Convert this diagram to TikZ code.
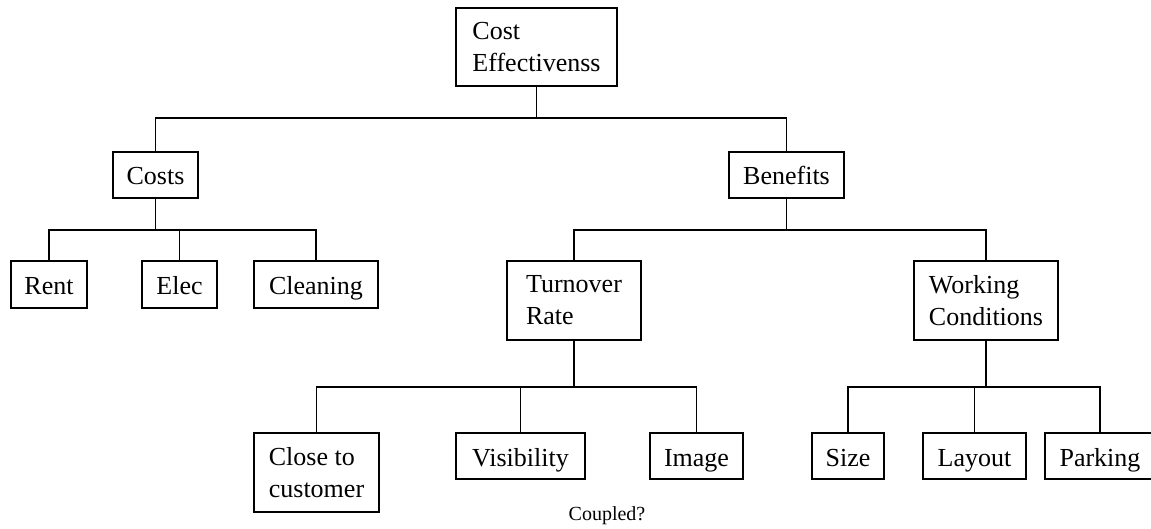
\documentclass[tikz,border=0pt]{standalone}
\usepackage{fontspec}
\setmainfont{Liberation Serif}
\usepackage{tikz}
\usetikzlibrary{positioning,calc}
\tikzset{
  hbase/.style={draw,line width=1.5pt,align=left,inner sep=0pt,outer sep=0pt,font=\fontsize{26}{32}\selectfont},
  hbox/.style={hbase,minimum height=46pt,text height=22pt,text depth=2pt},
  hboxtwo/.style={hbase,minimum height=79pt},
  lnk/.style={line width=1.5pt},
  lnkt/.style={line width=0.9pt}
}

\begin{document}
\begin{tikzpicture}[x=1pt,y=1pt]
          \useasboundingbox (0,0) rectangle (1151,-529);
          %% top of the tree
          \node[hboxtwo,minimum height=78pt,minimum width=161pt,anchor=north] (hE) at (536.5,-8) {Cost\\Effectivenss};
          \node[hbox,minimum width=85pt,anchor=north] (hC) at (155.5,-152) {Costs};
          \node[hbox,minimum width=115pt,anchor=north] (hB) at (786.5,-152) {Benefits};
          %% costs side
          \node[hbox,minimum width=76pt,minimum height=47pt,anchor=north] (hR) at (49,-261) {Rent};
          \node[hbox,minimum width=75pt,minimum height=47pt,right=55pt of hR] (hL) {Elec};
          \node[hbox,minimum width=124pt,minimum height=47pt,right=37pt of hL] (hN) {Cleaning};
          %% benefits side
          \node[hboxtwo,minimum width=134pt,anchor=north] (hT) at (574,-261) {Turnover\\Rate};
          \node[hboxtwo,minimum width=144pt,anchor=north] (hW) at (986,-261) {Working\\Conditions};
          \node[hboxtwo,minimum width=125pt,anchor=north] (hK) at (316.5,-433) {Close to\\customer};
          \node[hbox,minimum width=129pt,anchor=north] (hV) at (520.5,-433) {Visibility};
          \node[hbox,minimum width=93pt,right=65pt of hV] (hI) {Image};
          \node[hbox,minimum width=72pt,anchor=north] (hS) at (848,-433) {Size};
          \node[hbox,minimum width=103pt,right=39pt of hS] (hY) {Layout};
          \node[hbox,minimum width=110pt,right=19pt of hY] (hP) {Parking};
          \node[font=\fontsize{20}{24}\selectfont] (hQ) at (607,-516) {Coupled?};
          %% bus lines
          \coordinate (b0) at (536.5,-118);
          \coordinate (b1) at (155.5,-230);
          \coordinate (b2) at (786.5,-230);
          \coordinate (b3) at (574,-387);
          \coordinate (b4) at (986,-387);
          \draw[lnk](hE.south)--(hE.south|-b0)-|(hC.north);\draw[lnk](hE.south|-b0)-|(hB.north);
          \draw[lnk](hC.south)--(hC.south|-b1)-|(hR.north);\draw[lnk](hC.south|-b1)-|(hN.north);
          \draw[lnkt](hL.north)--(hL.north|-b1);
          \draw[lnk](hB.south)--(hB.south|-b2)-|(hT.north);\draw[lnk](hB.south|-b2)-|(hW.north);
          \draw[lnk](hT.south)--(hT.south|-b3)-|(hK.north);\draw[lnk](hT.south|-b3)-|(hI.north);
          \draw[lnkt](hV.north)--(hV.north|-b3);
          \draw[lnk](hW.south)--(hW.south|-b4)-|(hS.north);\draw[lnk](hW.south|-b4)-|(hP.north);
          \draw[lnkt](hY.north)--(hY.north|-b4);
        \end{tikzpicture}
\end{document}
